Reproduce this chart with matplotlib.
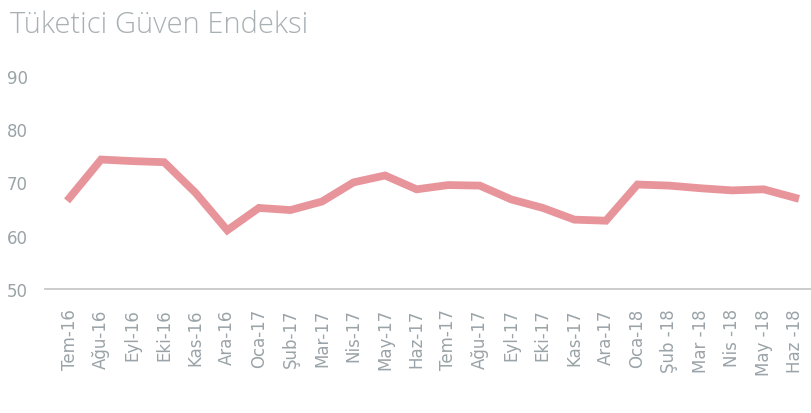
import matplotlib
matplotlib.use("Agg")
import matplotlib.pyplot as plt

months = ["Tem-16", "Ağu-16", "Eyl-16", "Eki-16", "Kas-16", "Ara-16",
          "Oca-17", "Şub-17", "Mar-17", "Nis-17", "May-17", "Haz-17",
          "Tem-17", "Ağu-17", "Eyl-17", "Eki-17", "Kas-17", "Ara-17",
          "Oca-18", "Şub -18", "Mar -18", "Nis -18", "May -18", "Haz -18"]
guven = [67.1, 74.3, 74.0, 73.8, 68.0, 61.0,
         65.2, 64.8, 66.4, 70.0, 71.3, 68.7,
         69.5, 69.4, 66.8, 65.2, 63.0, 62.8,
         69.6, 69.4, 68.9, 68.5, 68.7, 67.1]
yticks = [50, 60, 70, 80, 90]

gray = "#9aa3a8"

fig = plt.figure(figsize=(8.11, 4.14), dpi=100)
ax = fig.add_axes([0.055, 0.30, 0.945, 0.514])

x = list(range(len(months)))
ax.plot(x, guven, color="#e8949b", lw=5.6, solid_joinstyle="miter")

ax.set_ylim(50, 90)
ax.set_xlim(-0.79, 23.5)
ax.set_yticks(yticks)
ax.set_yticklabels([str(v) for v in yticks], color=gray, fontsize=12)
ax.set_xticks(x)
ax.set_xticklabels(months, rotation=90, color=gray, fontsize=12)
ax.tick_params(axis="both", length=0)
ax.tick_params(axis="x", pad=14)
ax.tick_params(axis="y", pad=12)

for s in ["top", "right", "left"]:
    ax.spines[s].set_visible(False)
ax.spines["bottom"].set_color("#c8c8c8")
ax.spines["bottom"].set_linewidth(1.3)

fig.text(0.012, 0.975, "Tüketici Güven Endeksi", ha="left", va="top",
         fontsize=21, color="#a9b0b4", family="Open Sans", fontweight="light")

fig.savefig("out.png", dpi=100)
